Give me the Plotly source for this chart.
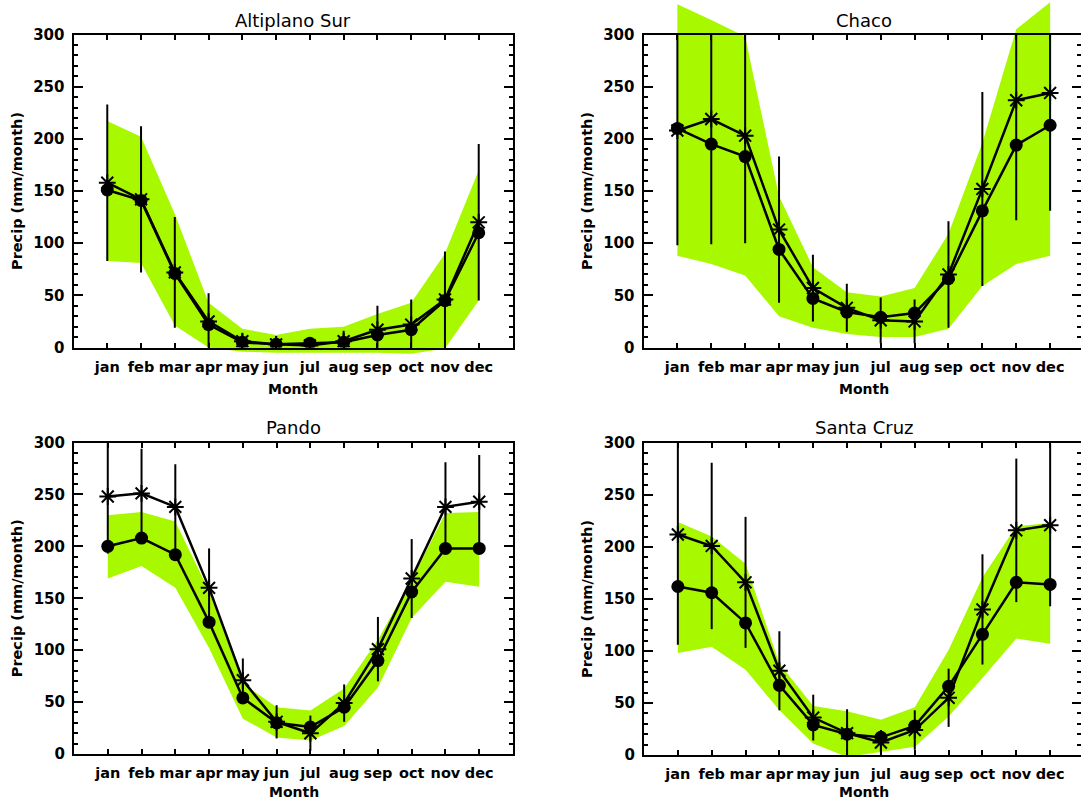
import plotly.graph_objects as go

# Monthly precipitation climatology for four Bolivian regions
months = ["jan", "feb", "mar", "apr", "may", "jun", "jul", "aug", "sep", "oct", "nov", "dec"]
month_pos = list(range(1, 13))

# Altiplano Sur
altiplano_band_lo = [83, 81, 21, 0, -4, -5, -5, -5, -5, -6, -1, 45]
altiplano_band_hi = [217, 202, 128, 43, 18, 12, 18, 20, 32, 43, 90, 170]
altiplano_circ = [151, 141, 71, 22, 5, 3, 4, 5, 12, 17, 45, 110]
altiplano_star = [158, 142, 72, 25, 6, 3, 2, 6, 17, 22, 46, 120]
altiplano_star_sd = [75, 70, 53, 27, 7, 8, 5, 10, 23, 24, 46, 75]

# Chaco
chaco_band_lo = [88, 80, 69, 30, 19, 13, 10, 10, 18, 59, 80, 88]
chaco_band_hi = [329, 314, 298, 145, 77, 53, 49, 57, 109, 196, 305, 331]
chaco_circ = [210, 195, 183, 94, 47, 34, 29, 33, 66, 131, 194, 213]
chaco_star = [208, 219, 203, 113, 57, 38, 26, 25, 70, 152, 237, 244]
chaco_star_sd = [110, 120, 103, 70, 32, 23, 22, 21, 51, 93, 115, 113]

# Pando
pando_band_lo = [169, 181, 160, 102, 34, 16, 13, 27, 64, 131, 166, 161]
pando_band_hi = [230, 233, 224, 157, 68, 45, 42, 63, 110, 168, 232, 233]
pando_circ = [200, 208, 192, 127, 54, 30, 26, 45, 90, 156, 198, 198]
pando_star = [248, 251, 238, 160, 71, 31, 20, 49, 101, 169, 238, 243]
pando_star_sd = [55, 43, 41, 38, 21, 16, 17, 18, 31, 38, 43, 45]

# Santa Cruz
scruz_band_lo = [98, 104, 82, 43, 11, -2, 3, 8, 37, 74, 112, 107]
scruz_band_hi = [224, 210, 184, 88, 47, 42, 34, 46, 101, 171, 220, 223]
scruz_circ = [162, 156, 127, 67, 29, 20, 17, 28, 66, 116, 166, 164]
scruz_star = [212, 201, 166, 81, 36, 21, 12, 24, 55, 140, 216, 221]
scruz_star_sd = [106, 80, 63, 38, 22, 23, 12, 19, 28, 53, 69, 78]

y_ticks = [0, 50, 100, 150, 200, 250, 300]

W, H = 1081, 801
GREEN = "#a8f800"
FONT = "DejaVu Sans"

# panel frames in pixels (left, right, top, bottom) plus spill room for the band
panels = [
    dict(title="Altiplano Sur", lo=altiplano_band_lo, hi=altiplano_band_hi, circ=altiplano_circ,
         star=altiplano_star, sd=altiplano_star_sd, left=73.5, right=512.5, top=34.5, bottom=347.5,
         band_top=0, band_bottom=362, title_y=21, xlab_y=389, ylab_x=17),
    dict(title="Chaco", lo=chaco_band_lo, hi=chaco_band_hi, circ=chaco_circ,
         star=chaco_star, sd=chaco_star_sd, left=643.5, right=1084, top=34.5, bottom=347.5,
         band_top=0, band_bottom=362, title_y=21, xlab_y=389, ylab_x=587),
    dict(title="Pando", lo=pando_band_lo, hi=pando_band_hi, circ=pando_circ,
         star=pando_star, sd=pando_star_sd, left=74, right=513, top=442.5, bottom=754,
         band_top=428, band_bottom=768, title_y=427, xlab_y=792, ylab_x=17),
    dict(title="Santa Cruz", lo=scruz_band_lo, hi=scruz_band_hi, circ=scruz_circ,
         star=scruz_star, sd=scruz_star_sd, left=644, right=1084, top=443, bottom=755,
         band_top=428, band_bottom=769, title_y=427, xlab_y=792, ylab_x=587),
]

fig = go.Figure()
layout_axes = {}
annotations = []
n = len(panels)

for i, p in enumerate(panels):
    band_id = i + 1
    main_id = i + 1 + n
    bx = "x" if band_id == 1 else f"x{band_id}"
    by = "y" if band_id == 1 else f"y{band_id}"
    mx, my = f"x{main_id}", f"y{main_id}"

    vis_right = min(p["right"], W)
    xdom = [p["left"] / W, vis_right / W]
    xmax = 13 * (vis_right - p["left"]) / (p["right"] - p["left"])
    units_per_px = 300 / (p["bottom"] - p["top"])

    # spread band: separate, slightly taller axes so it can spill past the frame
    ymin_b = -(p["band_bottom"] - p["bottom"]) * units_per_px
    ymax_b = 300 + (p["top"] - p["band_top"]) * units_per_px
    layout_axes[f"xaxis{'' if band_id == 1 else band_id}"] = dict(
        domain=xdom, range=[0, xmax], visible=False, anchor=by, automargin=False)
    layout_axes[f"yaxis{'' if band_id == 1 else band_id}"] = dict(
        domain=[1 - p["band_bottom"] / H, 1 - p["band_top"] / H],
        range=[ymin_b, ymax_b], visible=False, anchor=bx, automargin=False)

    fig.add_trace(go.Scatter(
        x=month_pos + month_pos[::-1], y=p["hi"] + p["lo"][::-1],
        fill="toself", fillcolor=GREEN, mode="lines", line=dict(width=0, color=GREEN),
        hoverinfo="skip", showlegend=False, xaxis=bx, yaxis=by))

    # framed axes with the two series
    layout_axes[f"xaxis{main_id}"] = dict(
        domain=xdom, range=[0, xmax], anchor=my, automargin=False,
        tickmode="array", tickvals=month_pos, ticktext=months, tickangle=0,
        ticks="inside", ticklen=5, tickwidth=2, tickcolor="black",
        showline=True, linewidth=2, linecolor="black", mirror="ticks",
        showgrid=False, zeroline=False, ticklabelstandoff=5,
        tickfont=dict(family=FONT, size=14.5, color="black", weight="bold"))
    layout_axes[f"yaxis{main_id}"] = dict(
        domain=[1 - p["bottom"] / H, 1 - p["top"] / H], range=[0, 300], anchor=mx,
        automargin=False, tickmode="array", tickvals=y_ticks,
        ticks="inside", ticklen=9, tickwidth=2, tickcolor="black",
        minor=dict(dtick=10, tick0=0, ticks="inside", ticklen=4, tickwidth=2,
                   tickcolor="black", showgrid=False),
        showline=True, linewidth=2, linecolor="black", mirror="ticks",
        showgrid=False, zeroline=False, ticklabelstandoff=4,
        tickfont=dict(family=FONT, size=15, color="black", weight="bold"))

    fig.add_trace(go.Scatter(
        x=month_pos, y=p["circ"], mode="lines+markers",
        line=dict(color="black", width=2.5),
        marker=dict(symbol="circle", size=13, color="black"),
        showlegend=False, xaxis=mx, yaxis=my))
    fig.add_trace(go.Scatter(
        x=month_pos, y=p["star"], mode="lines+markers",
        line=dict(color="black", width=2.5),
        marker=dict(symbol="asterisk-open", size=14, color="black",
                    line=dict(color="black", width=2)),
        error_y=dict(type="data", array=p["sd"], visible=True, color="black",
                     thickness=2, width=0),
        showlegend=False, xaxis=mx, yaxis=my))

    cx = (p["left"] + p["right"]) / 2 / W
    cy = 1 - (p["top"] + p["bottom"]) / 2 / H
    annotations += [
        dict(text=p["title"], x=cx, y=1 - p["title_y"] / H, xref="paper", yref="paper",
             showarrow=False, xanchor="center", yanchor="middle",
             font=dict(family=FONT, size=18, color="black")),
        dict(text="Month", x=cx, y=1 - p["xlab_y"] / H, xref="paper", yref="paper",
             showarrow=False, xanchor="center", yanchor="middle",
             font=dict(family=FONT, size=14, color="black", weight="bold")),
        dict(text="Precip (mm/month)", x=p["ylab_x"] / W, y=cy, xref="paper", yref="paper",
             showarrow=False, xanchor="center", yanchor="middle", textangle=-90,
             font=dict(family=FONT, size=14.5, color="black", weight="bold")),
    ]

fig.update_layout(
    template="none",
    width=W, height=H, autosize=False,
    margin=dict(l=0, r=0, t=0, b=0, pad=0),
    paper_bgcolor="white", plot_bgcolor="rgba(0,0,0,0)",
    showlegend=False, annotations=annotations,
    font=dict(family=FONT, color="black"),
    **layout_axes,
)

fig.write_html("out.html")
